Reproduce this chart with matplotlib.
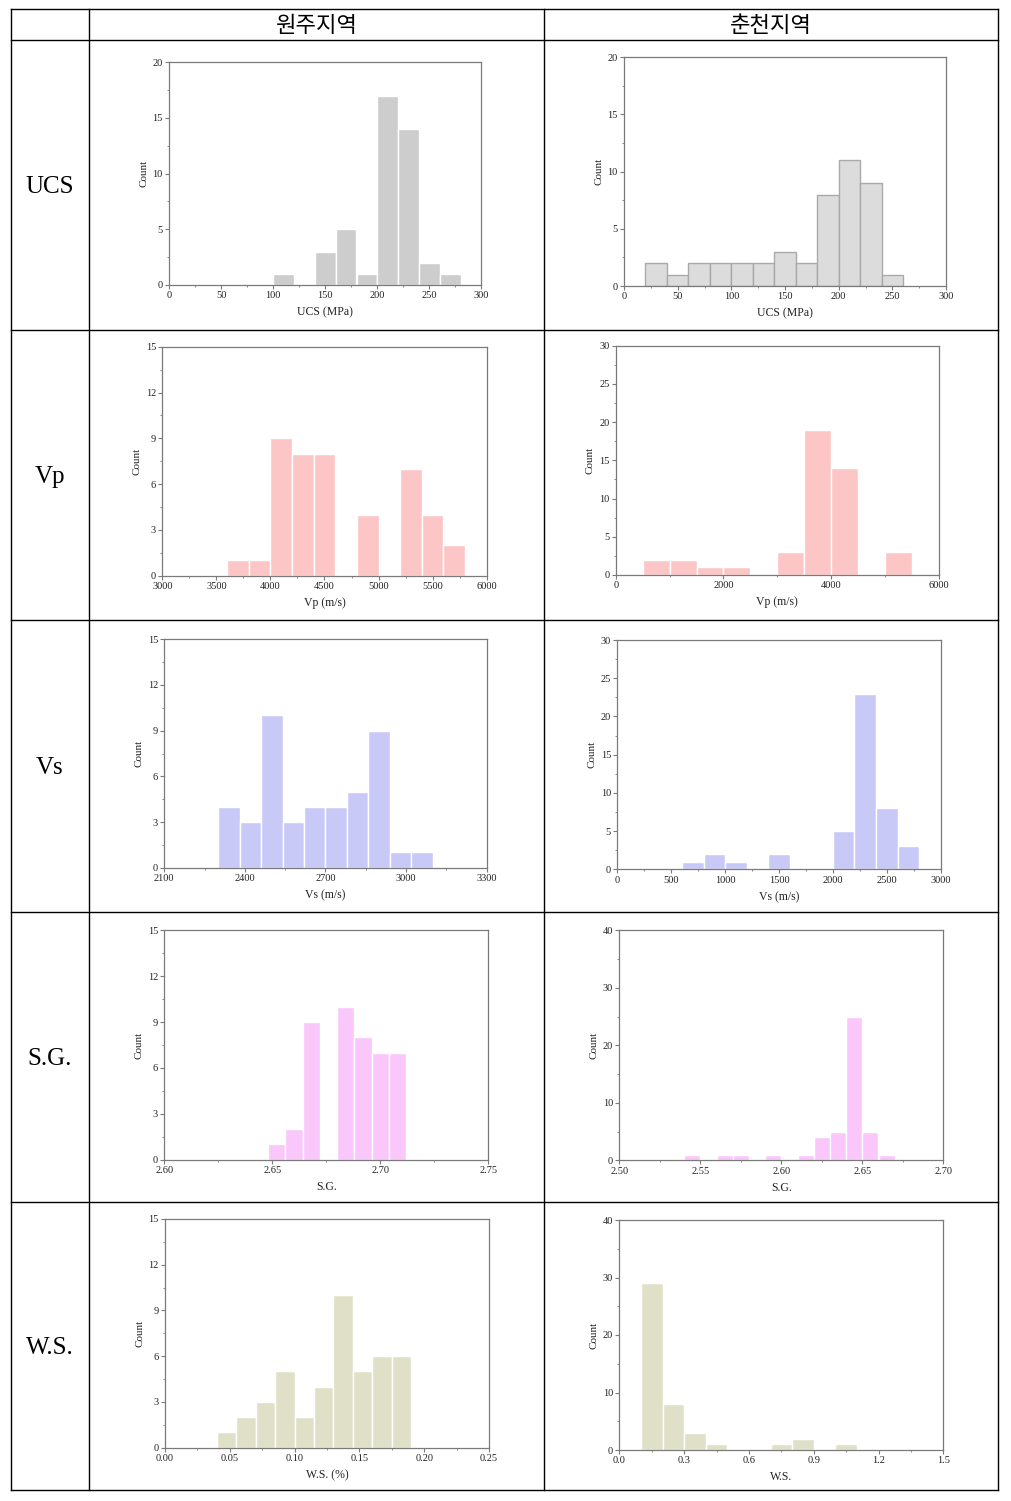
import numpy as np
import matplotlib
matplotlib.use("Agg")
import matplotlib.pyplot as plt
from matplotlib.ticker import MultipleLocator, AutoMinorLocator

plt.rcParams["font.family"] = ["Liberation Serif", "DejaVu Serif"]

W, H = 1011, 1501

col_titles = ["원주지역", "춘천지역"]
row_titles = ["UCS", "Vp", "Vs", "S.G.", "W.S."]

# histograms: bin start, bin width, counts (one per bin)
ucs_w_start, ucs_w_width = 100, 20
ucs_w_counts = [1, 0, 3, 5, 1, 17, 14, 2, 1]
ucs_c_start, ucs_c_width = 20, 20
ucs_c_counts = [2, 1, 2, 2, 2, 2, 3, 2, 8, 11, 9, 1]

vp_w_start, vp_w_width = 3600, 200
vp_w_counts = [1, 1, 9, 8, 8, 0, 4, 0, 7, 4, 2]
vp_c_start, vp_c_width = 500, 500
vp_c_counts = [2, 2, 1, 1, 0, 3, 19, 14, 0, 3]

vs_w_start, vs_w_width = 2300, 80
vs_w_counts = [4, 3, 10, 3, 4, 4, 5, 9, 1, 1]
vs_c_start, vs_c_width = 600, 200
vs_c_counts = [1, 2, 1, 0, 2, 0, 0, 5, 23, 8, 3]

sg_w_start, sg_w_width = 2.648, 0.008
sg_w_counts = [1, 2, 9, 0, 10, 8, 7, 7]
sg_c_start, sg_c_width = 2.54, 0.01
sg_c_counts = [1, 0, 1, 1, 0, 1, 0, 1, 4, 5, 25, 5, 1]

ws_w_start, ws_w_width = 0.04, 0.015
ws_w_counts = [1, 2, 3, 5, 2, 4, 10, 5, 6, 6]
ws_c_start, ws_c_width = 0.1, 0.1
ws_c_counts = [29, 8, 3, 1, 0, 0, 1, 2, 0, 1]

xlabels = ["UCS (MPa)", "Vp (m/s)", "Vs (m/s)", "S.G.", ["W.S. (%)", "W.S."]]

panels = [
    # (start, width, counts, xlim, xstep, ymax, ystep, color, edge, xfmt)
    [(ucs_w_start, ucs_w_width, ucs_w_counts, (0, 300), 50, 20, 5, "#cdcdcd", "white", "{:.0f}"),
     (ucs_c_start, ucs_c_width, ucs_c_counts, (0, 300), 50, 20, 5, "#dcdcdc", "#a9a9a9", "{:.0f}")],
    [(vp_w_start, vp_w_width, vp_w_counts, (3000, 6000), 500, 15, 3, "#fcc6c6", "white", "{:.0f}"),
     (vp_c_start, vp_c_width, vp_c_counts, (0, 6000), 2000, 30, 5, "#fcc6c6", "white", "{:.0f}")],
    [(vs_w_start, vs_w_width, vs_w_counts, (2100, 3300), 300, 15, 3, "#c9c9f7", "white", "{:.0f}"),
     (vs_c_start, vs_c_width, vs_c_counts, (0, 3000), 500, 30, 5, "#c9c9f7", "white", "{:.0f}")],
    [(sg_w_start, sg_w_width, sg_w_counts, (2.60, 2.75), 0.05, 15, 3, "#fac7fa", "white", "{:.2f}"),
     (sg_c_start, sg_c_width, sg_c_counts, (2.50, 2.70), 0.05, 40, 10, "#fac7fa", "white", "{:.2f}")],
    [(ws_w_start, ws_w_width, ws_w_counts, (0, 0.25), 0.05, 15, 3, "#e0e0c8", "white", "{:.2f}"),
     (ws_c_start, ws_c_width, ws_c_counts, (0, 1.5), 0.3, 40, 10, "#e0e0c8", "white", "{:.1f}")],
]

# axes boxes in pixels: x0, x1, ytop, ybottom
boxes = [
    [(169, 481.5, 62.3, 285), (624, 946, 57.3, 286)],
    [(162.3, 486.7, 346.7, 575.7), (615.7, 939, 345.7, 575)],
    [(164.3, 486.7, 639.3, 867.7), (617.3, 940.7, 640, 869.3)],
    [(164.3, 488.3, 930.3, 1159.7), (619.3, 943.3, 930.3, 1160.3)],
    [(165, 489, 1219, 1447.7), (619.3, 943.3, 1220, 1450)],
]

fig = plt.figure(figsize=(W / 100, H / 100), dpi=100)

# table grid
bg = fig.add_axes([0, 0, 1, 1])
bg.set_xlim(0, W)
bg.set_ylim(H, 0)
bg.axis("off")
row_lines = [9, 40, 330, 620, 912, 1202, 1490]
col_lines = [11, 89, 544, 998]
for y in row_lines:
    bg.plot([11, 998], [y, y], color="black", lw=1)
for x in col_lines:
    bg.plot([x, x], [9, 1490], color="black", lw=1)
for j, t in enumerate(col_titles):
    bg.text((col_lines[j + 1] + col_lines[j + 2]) / 2, 25, t, ha="center", va="center",
            fontsize=16, family=["Noto Sans CJK KR", "DejaVu Sans"])
for i, t in enumerate(row_titles):
    bg.text(50, (row_lines[i + 1] + row_lines[i + 2]) / 2 + 2, t, ha="center", va="center",
            fontsize=18)

frame_c = "#7a7a7a"
for i in range(5):
    for j in range(2):
        start, width, counts, xlim, xstep, ymax, ystep, color, edge, fmt = panels[i][j]
        x0, x1, yt, yb = boxes[i][j]
        ax = fig.add_axes([x0 / W, 1 - yb / H, (x1 - x0) / W, (yb - yt) / H])
        edges = start + width * np.arange(len(counts))
        ax.bar(edges, counts, width=width, align="edge", color=color,
               edgecolor=edge, linewidth=1.0)
        ax.set_xlim(*xlim)
        ax.set_ylim(0, ymax)
        ax.xaxis.set_major_locator(MultipleLocator(xstep))
        ax.yaxis.set_major_locator(MultipleLocator(ystep))
        ax.xaxis.set_minor_locator(AutoMinorLocator(2))
        ax.yaxis.set_minor_locator(AutoMinorLocator(2))
        ax.xaxis.set_major_formatter(matplotlib.ticker.FuncFormatter(lambda v, p, f=fmt: f.format(v)))
        ax.tick_params(which="both", direction="out", colors=frame_c, labelcolor="#222222",
                       labelsize=7.5, pad=1.5, top=False, right=False)
        ax.tick_params(which="major", length=3, width=0.8)
        ax.tick_params(which="minor", length=1.5, width=0.6)
        for s in ax.spines.values():
            s.set_color(frame_c)
            s.set_linewidth(0.9)
        xl = xlabels[i]
        if isinstance(xl, list):
            xl = xl[j]
        ax.set_xlabel(xl, fontsize=8.5, labelpad=4.5, color="#222222")
        ax.set_ylabel("Count", fontsize=8, labelpad=3, color="#222222")

fig.savefig("out.png", dpi=100)
